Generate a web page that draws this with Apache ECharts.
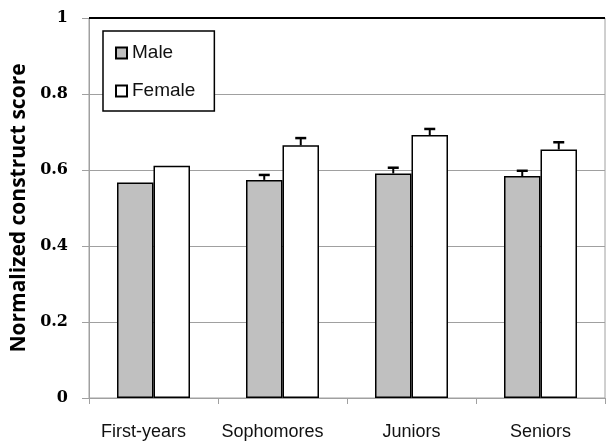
<!DOCTYPE html>
<html>
<head>
<meta charset="utf-8">
<script src="https://cdn.jsdelivr.net/npm/echarts@6/dist/echarts.min.js"></script>
<style>
  html, body { margin: 0; padding: 0; background: #fff; }
  #chart { width: 606px; height: 443px; }
</style>
</head>
<body>
<div id="chart"></div>
<script>
// Class years on the x axis
var categories = ['First-years', 'Sophomores', 'Juniors', 'Seniors'];
// Mean normalized construct scores
var maleScores = [0.567, 0.574, 0.591, 0.584];
var femaleScores = [0.611, 0.665, 0.692, 0.654];
// Upper error bar lengths (none shown for first-years)
var maleErrors = [null, 0.013, 0.015, 0.014];
var femaleErrors = [null, 0.019, 0.016, 0.019];

var BAR_WIDTH = 36.5;

function errorData(values, errors) {
  var out = [];
  for (var i = 0; i < values.length; i++) {
    if (errors[i] != null) out.push([i, values[i], values[i] + errors[i]]);
  }
  return out;
}

function makeErrorRenderer(side) {
  return function (params, api) {
    var idx = api.value(0);
    var base = api.coord([idx, api.value(1)]);
    var top = api.coord([idx, api.value(2)]);
    var x = base[0] + side * BAR_WIDTH / 2;
    var half = 5.5;
    return {
      type: 'group',
      children: [
        { type: 'line', shape: { x1: x, y1: base[1], x2: x, y2: top[1] },
          style: { stroke: '#000', lineWidth: 2 } },
        { type: 'line', shape: { x1: x - half, y1: top[1], x2: x + half, y2: top[1] },
          style: { stroke: '#000', lineWidth: 2.5 } }
      ]
    };
  };
}

var chart = echarts.init(document.getElementById('chart'));
chart.setOption({
  animation: false,
  backgroundColor: '#fff',
  grid: {
    left: 89, right: 1, top: 18, bottom: 45,
    show: true, borderColor: '#a0a0a0', borderWidth: 1, backgroundColor: 'transparent'
  },
  legend: {
    orient: 'vertical',
    left: 103, top: 31,
    padding: [12, 19, 10, 12],
    itemGap: 18,
    itemWidth: 11, itemHeight: 11,
    backgroundColor: '#fff',
    borderColor: '#000', borderWidth: 1.5, borderRadius: 0,
    icon: 'rect',
    textStyle: { fontFamily: 'Liberation Sans', fontSize: 19, color: '#111', lineHeight: 20 },
    data: ['Male', 'Female']
  },
  xAxis: {
    type: 'category',
    data: categories,
    axisLine: { lineStyle: { color: '#a0a0a0', width: 1 } },
    axisTick: { show: true, length: 6, lineStyle: { color: '#a0a0a0' } },
    axisLabel: {
      interval: 0, fontFamily: 'Liberation Sans', fontSize: 18, color: '#111', margin: 25,
      // the two longer labels sit a little left of their category centre
      formatter: function (v, i) { return i < 2 ? '{shift|' + v + '}' : v; },
      rich: {
        shift: { fontFamily: 'Liberation Sans', fontSize: 18, color: '#111', padding: [0, 20, 0, 0] }
      }
    }
  },
  yAxis: {
    type: 'value',
    min: 0, max: 1, interval: 0.2,
    name: 'Normalized construct score',
    nameLocation: 'middle',
    nameGap: 57,
    nameTextStyle: { fontFamily: 'Open Sans', fontWeight: 'bold', fontSize: 21, color: '#000' },
    axisLine: { show: true, lineStyle: { color: '#a0a0a0', width: 1 } },
    axisTick: { show: true, length: 7, lineStyle: { color: '#a0a0a0' } },
    axisLabel: {
      fontFamily: 'DejaVu Serif', fontWeight: 'bold', fontSize: 16, color: '#000', margin: 21,
      formatter: function (v) { return String(Math.round(v * 10) / 10); }
    },
    splitLine: { show: true, lineStyle: { color: ['#a0a0a0', '#a0a0a0', '#a0a0a0', '#a0a0a0', '#a0a0a0', '#000'], width: 1 } }
  },
  series: [
    {
      name: 'Male', type: 'bar', data: maleScores,
      barWidth: BAR_WIDTH, barGap: '0%',
      itemStyle: { color: '#c0c0c0', borderColor: '#000', borderWidth: 1.5 }
    },
    {
      name: 'Female', type: 'bar', data: femaleScores,
      barWidth: BAR_WIDTH, barGap: '0%',
      itemStyle: { color: '#fff', borderColor: '#000', borderWidth: 1.5 },
      markLine: {
        silent: true, symbol: 'none', label: { show: false },
        lineStyle: { color: '#000', width: 2, type: 'solid' },
        data: [{ yAxis: 1 }]
      }
    },
    {
      type: 'custom', name: 'Male error', data: errorData(maleScores, maleErrors),
      renderItem: makeErrorRenderer(-1), z: 5, silent: true
    },
    {
      type: 'custom', name: 'Female error', data: errorData(femaleScores, femaleErrors),
      renderItem: makeErrorRenderer(1), z: 5, silent: true
    }
  ]
});
</script>
</body>
</html>
